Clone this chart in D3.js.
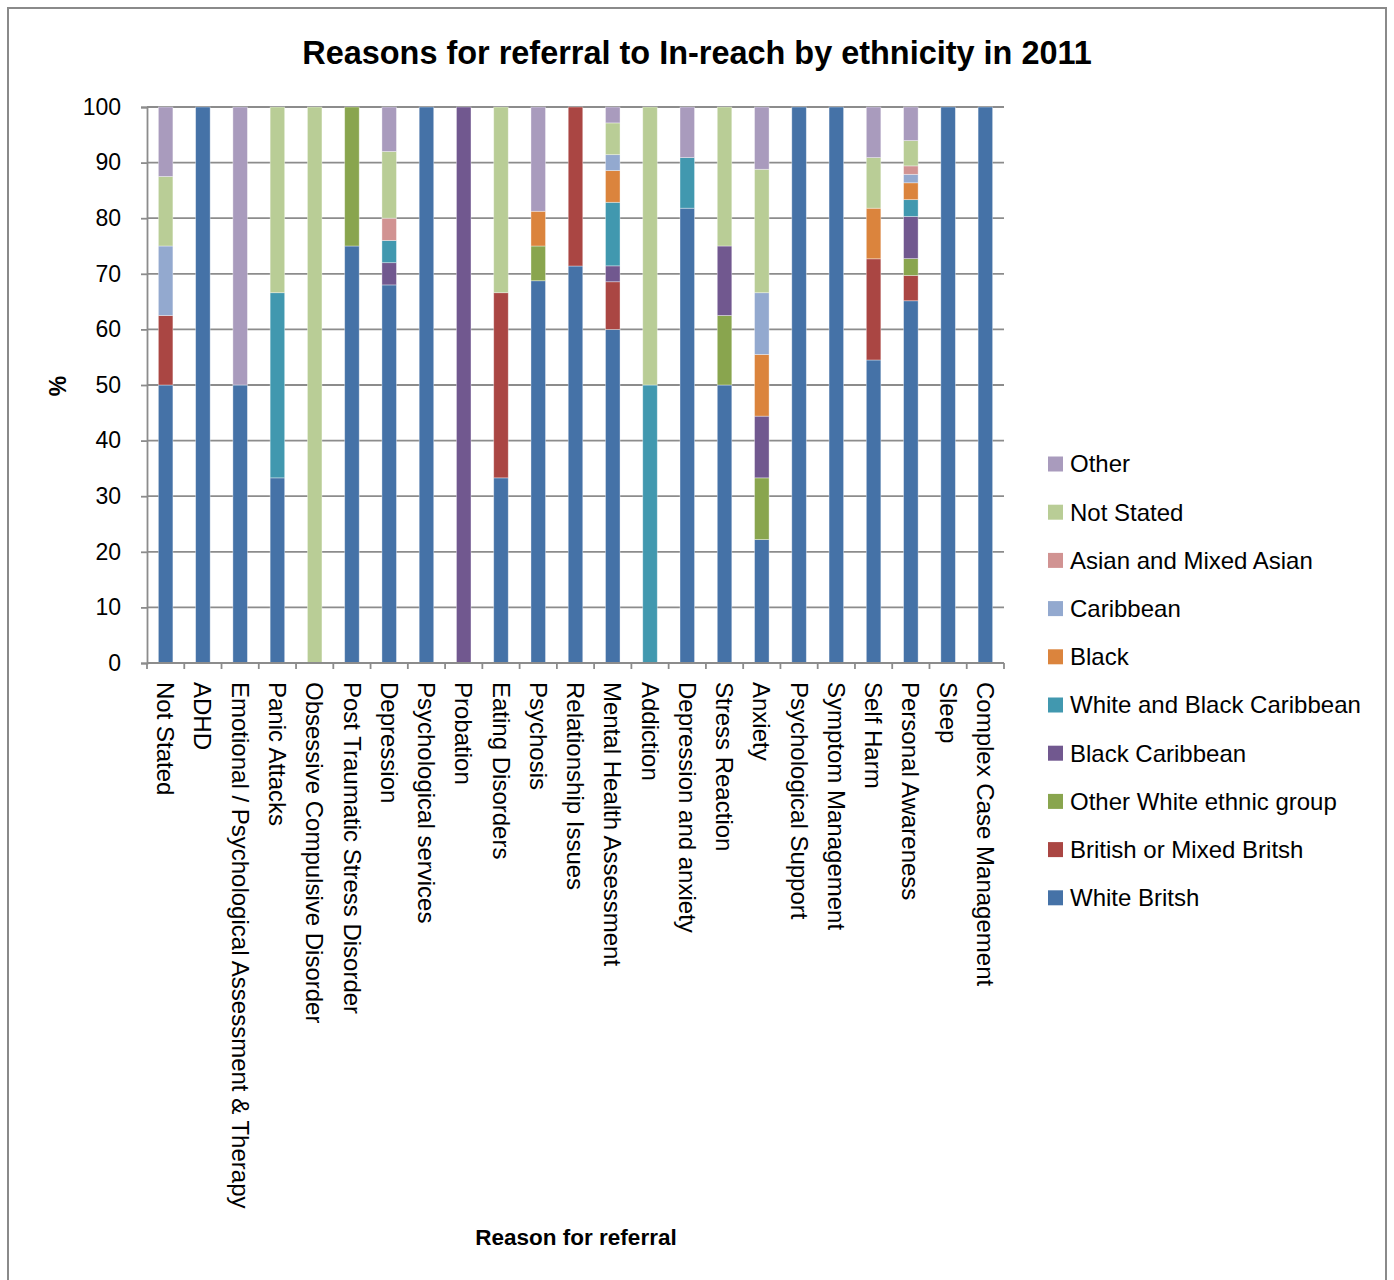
<!DOCTYPE html>
<html>
<head>
<meta charset="utf-8">
<script src="https://cdn.jsdelivr.net/npm/d3@7"></script>
<style>
  html, body { margin: 0; padding: 0; background: #fff; }
  svg { display: block; font-family: "Liberation Sans", Arial, sans-serif; }
</style>
</head>
<body>
<svg id="chart" width="1394" height="1280"></svg>
<script>
// Reasons for referral (x categories)
const categories = [
  "Not Stated", "ADHD", "Emotional / Psychological Assessment & Therapy",
  "Panic Attacks", "Obsessive Compulsive Disorder", "Post Traumatic Stress Disorder",
  "Depression", "Psychological services", "Probation", "Eating Disorders",
  "Psychosis", "Relationship Issues", "Mental Health Assessment", "Addiction",
  "Depression and anxiety", "Stress Reaction", "Anxiety", "Psychological Support",
  "Symptom Management", "Self Harm", "Personal Awareness", "Sleep",
  "Complex Case Management"
];

// Percentage share of each ethnic group per referral reason (stacked bottom to top)
const whiteBritish      = [50, 100, 50, 33.3, 0, 75, 68, 100, 0, 33.3, 68.75, 71.4, 60, 0, 81.8, 50, 22.2, 100, 100, 54.5, 65.15, 100, 100];
const britishMixed      = [12.5, 0, 0, 0, 0, 0, 0, 0, 0, 33.3, 0, 28.6, 8.57, 0, 0, 0, 0, 0, 0, 18.2, 4.55, 0, 0];
const otherWhite        = [0, 0, 0, 0, 0, 25, 0, 0, 0, 0, 6.25, 0, 0, 0, 0, 12.5, 11.1, 0, 0, 0, 3.03, 0, 0];
const blackCaribbean    = [0, 0, 0, 0, 0, 0, 4, 0, 100, 0, 0, 0, 2.86, 0, 0, 12.5, 11.1, 0, 0, 0, 7.58, 0, 0];
const whiteBlackCarib   = [0, 0, 0, 33.3, 0, 0, 4, 0, 0, 0, 0, 0, 11.43, 50, 9.1, 0, 0, 0, 0, 0, 3.03, 0, 0];
const black             = [0, 0, 0, 0, 0, 0, 0, 0, 0, 0, 6.25, 0, 5.71, 0, 0, 0, 11.1, 0, 0, 9.1, 3.03, 0, 0];
const caribbean         = [12.5, 0, 0, 0, 0, 0, 0, 0, 0, 0, 0, 0, 2.86, 0, 0, 0, 11.1, 0, 0, 0, 1.52, 0, 0];
const asianMixedAsian   = [0, 0, 0, 0, 0, 0, 4, 0, 0, 0, 0, 0, 0, 0, 0, 0, 0, 0, 0, 0, 1.52, 0, 0];
const notStated         = [12.5, 0, 0, 33.4, 100, 0, 12, 0, 0, 33.4, 0, 0, 5.71, 50, 0, 25, 22.2, 0, 0, 9.1, 4.55, 0, 0];
const other             = [12.5, 0, 50, 0, 0, 0, 8, 0, 0, 0, 18.75, 0, 2.86, 0, 9.1, 0, 11.2, 0, 0, 9.1, 6.06, 0, 0];

const seriesNames = [
  "White Britsh", "British or Mixed Britsh", "Other White ethnic group", "Black Caribbean",
  "White and Black Caribbean", "Black", "Caribbean", "Asian and Mixed Asian", "Not Stated", "Other"
];
const seriesValues = [
  whiteBritish, britishMixed, otherWhite, blackCaribbean, whiteBlackCarib,
  black, caribbean, asianMixedAsian, notStated, other
];
const seriesColors = [
  "#4572A7", "#AA4643", "#89A54E", "#71588F", "#4198AF",
  "#DB843D", "#93A9CF", "#D19392", "#B9CD96", "#A99BBD"
];

const yTicks = [0, 10, 20, 30, 40, 50, 60, 70, 80, 90, 100];

// Build rows for d3.stack
const rows = categories.map((c, i) => {
  const r = { category: c };
  seriesNames.forEach((s, j) => { r[s] = seriesValues[j][i]; });
  return r;
});

const svg = d3.select("#chart");

// Outer chart frame
svg.append("rect")
  .attr("x", 8).attr("y", 8).attr("width", 1378).attr("height", 1290)
  .attr("fill", "#fff").attr("stroke", "#8a8a8a").attr("stroke-width", 2);

const plot = { left: 147, right: 1004, top: 107, bottom: 663 };

const x = d3.scaleBand()
  .domain(categories)
  .range([plot.left, plot.right])
  .paddingInner(0.61)
  .paddingOuter(0.305);

const y = d3.scaleLinear().domain([0, 100]).range([plot.bottom, plot.top]);

// Horizontal gridlines
svg.append("g")
  .selectAll("line")
  .data(yTicks)
  .join("line")
  .attr("x1", plot.left).attr("x2", plot.right)
  .attr("y1", d => y(d)).attr("y2", d => y(d))
  .attr("stroke", "#8c8c8c").attr("stroke-width", 1.8);

// Stacked bars
const stack = d3.stack().keys(seriesNames)(rows);
svg.append("g")
  .selectAll("g")
  .data(stack)
  .join("g")
  .attr("fill", (d, i) => seriesColors[i])
  .selectAll("rect")
  .data(d => d.filter(p => p[1] - p[0] > 0))
  .join("rect")
  .attr("x", d => x(d.data.category))
  .attr("width", x.bandwidth())
  .attr("y", d => y(d[1]))
  .attr("height", d => y(d[0]) - y(d[1]))
  .attr("stroke", "rgba(255,255,255,0.45)")
  .attr("stroke-width", 0.8);

// Y axis
const yAxis = svg.append("g")
  .attr("transform", `translate(${plot.left},0)`)
  .call(d3.axisLeft(y).tickValues(yTicks).tickSize(6).tickPadding(20).tickFormat(d3.format("d")));
yAxis.select(".domain").attr("stroke", "#8c8c8c").attr("stroke-width", 1.8);
yAxis.selectAll(".tick line").attr("stroke", "#8c8c8c").attr("stroke-width", 1.8);
yAxis.selectAll(".tick text")
  .attr("font-family", "Liberation Sans, Arial, sans-serif")
  .attr("font-size", 23).attr("fill", "#000");

// X axis (ticks on category boundaries)
const step = x.step();
const boundaries = d3.range(categories.length + 1).map(i => plot.left + i * step);
svg.append("line")
  .attr("x1", plot.left).attr("x2", plot.right)
  .attr("y1", plot.bottom).attr("y2", plot.bottom)
  .attr("stroke", "#8c8c8c").attr("stroke-width", 1.8);
svg.append("g")
  .selectAll("line")
  .data(boundaries)
  .join("line")
  .attr("x1", d => d).attr("x2", d => d)
  .attr("y1", plot.bottom).attr("y2", plot.bottom + 6)
  .attr("stroke", "#8c8c8c").attr("stroke-width", 1.8);

// Rotated category labels
svg.append("g")
  .selectAll("text")
  .data(categories)
  .join("text")
  .attr("transform", d => `translate(${x(d) + x.bandwidth() / 2},${plot.bottom + 19}) rotate(90)`)
  .attr("dy", "0.35em")
  .attr("text-anchor", "start")
  .attr("font-size", 24)
  .attr("fill", "#000")
  .text(d => d);

// Title
const title = svg.append("text")
  .attr("x", 697).attr("y", 64)
  .attr("text-anchor", "middle")
  .attr("font-weight", "bold")
  .attr("font-size", 30)
  .attr("fill", "#000")
  .text("Reasons for referral to In-reach by ethnicity in 2011");
const tw = title.node().getComputedTextLength();
title.attr("font-size", 30 * 790 / tw);

// Axis titles
svg.append("text")
  .attr("transform", "translate(58,386) rotate(-90)")
  .attr("text-anchor", "middle")
  .attr("dy", "0.35em")
  .attr("font-weight", "bold")
  .attr("font-size", 23)
  .text("%");

svg.append("text")
  .attr("x", 576).attr("y", 1245)
  .attr("text-anchor", "middle")
  .attr("font-weight", "bold")
  .attr("font-size", 22.5)
  .text("Reason for referral");

// Legend (top entry = topmost stacked series)
const legendItems = seriesNames.map((s, i) => ({ name: s, color: seriesColors[i] })).reverse();
const legend = svg.append("g")
  .selectAll("g")
  .data(legendItems)
  .join("g")
  .attr("transform", (d, i) => `translate(1048,${464 + i * 48.2})`);
legend.append("rect")
  .attr("x", 0).attr("y", -7.5).attr("width", 15).attr("height", 15)
  .attr("fill", d => d.color);
legend.append("text")
  .attr("x", 22).attr("dy", "0.35em")
  .attr("font-size", 24)
  .attr("fill", "#000")
  .text(d => d.name);
</script>
</body>
</html>
